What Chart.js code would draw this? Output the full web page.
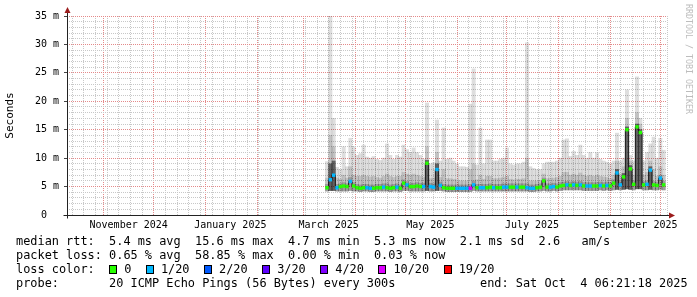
<!DOCTYPE html>
<html>
<head>
<meta charset="utf-8">
<script src="https://cdn.jsdelivr.net/npm/chart.js@4.4.1/dist/chart.umd.min.js"></script>
<style>
  html, body { margin: 0; padding: 0; background: #fff; }
  #wrap { position: relative; width: 697px; height: 297px; overflow: hidden; }
  #smoke { position: absolute; left: 0; top: 0; }
  .legend { position: absolute; left: 16px; font-family: 'DejaVu Sans Mono', monospace; font-size: 11.9px; line-height: 14px; white-space: pre; color: #000; }
  .box { display: inline-block; width: 8px; height: 9px; box-sizing: border-box; border: 1px solid #000; vertical-align: -1px; }
  #mark { position: absolute; left: 684px; top: 4px; writing-mode: vertical-rl; font-family: 'DejaVu Sans Mono', monospace; font-size: 8.3px; color: #bdbdbd; }
</style>
</head>
<body>
<div id="wrap">
  <canvas id="smoke" width="697" height="297"></canvas>
  <div id="mark">RRDTOOL / TOBI OETIKER</div>
  <div class="legend" style="top:234px">median rtt:  5.4 ms avg  15.6 ms max  4.7 ms min  5.3 ms now  2.1 ms sd  2.6   am/s</div>
  <div class="legend" style="top:248px">packet loss: 0.65 % avg  58.85 % max  0.00 % min  0.03 % now</div>
  <div class="legend" style="top:262px">loss color:  <span class="box" style="background:#26ff00"></span> 0  <span class="box" style="background:#00b8ff"></span> 1/20  <span class="box" style="background:#0059ff"></span> 2/20  <span class="box" style="background:#5e00ff"></span> 3/20  <span class="box" style="background:#7e00ff"></span> 4/20  <span class="box" style="background:#dd00ff"></span> 10/20  <span class="box" style="background:#ff0000"></span> 19/20</div>
  <div class="legend" style="top:276px">probe:       20 ICMP Echo Pings (56 Bytes) every 300s</div>
  <div class="legend" style="top:276px; left:480px">end: Sat Oct  4 06:21:18 2025</div>
</div>
<script>
// day 0 = Oct 10 2024, one bin = 2 days
var firstBinDay = 156;
var binStep = 2;

var medianMs = [
  4.8, 6.2, 7.0, 4.8, 5.0, 5.1, 5.0, 5.9, 5.1, 4.8,
  4.7, 4.8, 4.8, 4.7, 4.7, 4.8, 4.8, 4.9, 4.8, 4.7,
  4.8, 4.9, 4.7, 5.6, 5.3, 5.0, 5.0, 5.1, 5.0, 5.0,
  9.1, 5.0, 4.9, 8.0, 5.2, 4.8, 4.7, 4.7, 4.7, 4.7,
  4.7, 4.7, 4.7, 4.7, 5.3, 4.8, 4.8, 4.8, 4.8, 4.9,
  4.8, 4.8, 4.8, 4.9, 4.9, 4.9, 4.9, 4.9, 4.9, 4.9,
  4.8, 4.7, 4.7, 4.8, 4.9, 6.0, 4.9, 4.9, 5.0, 4.9,
  5.1, 5.2, 5.3, 5.2, 5.3, 5.2, 5.3, 5.1, 5.1, 5.1,
  5.1, 5.1, 5.2, 5.1, 5.2, 5.1, 5.6, 7.4, 5.3, 6.7,
  15.0, 8.1, 5.4, 15.5, 14.5, 5.3, 5.4, 7.9, 5.3, 5.2,
  6.5, 5.3
];

// lost pings out of 20
var lossOf20 = [
  0, 1, 1, 1, 0, 0, 0, 1, 0, 0,
  0, 0, 1, 1, 0, 0, 0, 1, 0, 0,
  0, 1, 0, 0, 1, 0, 0, 0, 0, 1,
  0, 1, 1, 1, 1, 0, 0, 0, 0, 1,
  1, 1, 1, 10, 1, 0, 1, 1, 0, 0,
  1, 0, 0, 1, 1, 0, 0, 1, 0, 0,
  1, 1, 1, 0, 0, 0, 0, 1, 1, 0,
  0, 0, 1, 0, 1, 0, 1, 0, 1, 1,
  0, 0, 1, 0, 1, 0, 0, 1, 1, 0,
  0, 0, 0, 0, 0, 0, 1, 1, 0, 0,
  1, 0
];

var smokeLo = [
  4.2, 4.3, 4.3, 4.2, 4.2, 4.2, 4.2, 4.3, 4.2, 4.2,
  4.1, 4.2, 4.2, 4.1, 4.1, 4.2, 4.2, 4.2, 4.2, 4.1,
  4.2, 4.2, 4.1, 4.3, 4.3, 4.2, 4.2, 4.2, 4.2, 4.2,
  4.3, 4.2, 4.2, 4.3, 4.3, 4.2, 4.1, 4.1, 4.1, 4.1,
  4.1, 4.1, 4.1, 4.1, 4.3, 4.2, 4.2, 4.2, 4.2, 4.2,
  4.2, 4.2, 4.2, 4.2, 4.2, 4.2, 4.2, 4.2, 4.2, 4.2,
  4.2, 4.1, 4.1, 4.2, 4.2, 4.3, 4.2, 4.2, 4.3, 4.2,
  4.3, 4.4, 4.4, 4.4, 4.4, 4.4, 4.4, 4.3, 4.3, 4.3,
  4.3, 4.3, 4.4, 4.3, 4.4, 4.3, 4.4, 4.5, 4.4, 4.5,
  4.6, 4.5, 4.4, 4.6, 4.6, 4.4, 4.4, 4.5, 4.4, 4.4,
  4.5, 4.4
];

var innerHi = [
  5.4, 9.0, 9.5, 5.4, 5.5, 5.7, 5.5, 6.6, 5.7, 5.4,
  5.3, 5.4, 5.4, 5.3, 5.3, 5.4, 5.4, 5.5, 5.5, 5.3,
  5.4, 5.5, 5.3, 6.2, 5.9, 5.6, 5.6, 5.7, 5.6, 5.6,
  9.6, 5.6, 5.5, 9.0, 5.8, 5.4, 5.3, 5.3, 5.3, 5.3,
  5.3, 5.3, 5.3, 5.4, 6.0, 5.4, 5.4, 5.4, 5.4, 5.5,
  5.4, 5.4, 5.4, 5.5, 5.5, 5.5, 5.5, 5.5, 5.5, 5.5,
  5.5, 5.3, 5.3, 5.4, 5.5, 6.5, 5.5, 5.5, 5.6, 5.5,
  5.7, 5.8, 5.9, 5.8, 5.9, 5.8, 5.9, 5.7, 5.7, 5.7,
  5.7, 5.7, 5.8, 5.7, 5.8, 5.7, 6.2, 8.0, 5.9, 7.3,
  15.5, 8.7, 6.0, 16.0, 15.0, 5.9, 6.0, 8.5, 5.9, 5.8,
  7.0, 5.9
];

var midHi = [
  6.5, 14.0, 12.0, 6.5, 6.3, 7.0, 6.5, 8.5, 7.0, 6.8,
  6.8, 7.0, 6.8, 6.7, 6.8, 6.6, 6.5, 6.8, 7.2, 6.8,
  6.6, 6.8, 6.8, 7.5, 7.2, 7.0, 7.2, 7.0, 6.8, 6.6,
  12.0, 6.4, 6.5, 11.0, 6.6, 8.0, 6.4, 6.4, 6.3, 6.2,
  6.0, 6.0, 6.0, 8.0, 9.0, 6.2, 7.0, 6.3, 6.8, 6.8,
  6.4, 6.4, 6.5, 6.6, 6.8, 6.3, 6.2, 6.3, 6.3, 6.4,
  10.0, 6.0, 6.0, 6.0, 6.1, 7.2, 6.4, 6.5, 6.5, 6.6,
  6.8, 7.5, 7.5, 7.0, 7.2, 7.0, 7.4, 7.0, 6.8, 7.0,
  6.8, 7.0, 6.8, 6.7, 6.6, 6.4, 7.0, 9.5, 7.0, 8.5,
  17.0, 9.5, 7.0, 18.0, 16.0, 7.0, 7.5, 9.5, 8.0, 6.8,
  8.5, 7.0
];

var smokeHi = [
  9.4, 35.0, 17.0, 8.4, 8.0, 12.0, 8.5, 13.5, 12.0, 10.5,
  10.8, 12.3, 10.2, 10.0, 10.3, 9.8, 9.6, 10.0, 12.5, 10.5,
  9.8, 10.5, 10.2, 12.3, 11.5, 11.0, 11.8, 11.0, 10.5, 9.8,
  19.7, 9.0, 9.2, 16.7, 9.5, 15.3, 9.8, 10.0, 9.5, 9.0,
  8.5, 8.5, 8.4, 19.5, 25.7, 8.8, 15.3, 9.0, 13.2, 13.2,
  9.5, 9.5, 9.8, 10.0, 11.8, 9.0, 8.8, 9.0, 9.0, 9.3,
  30.3, 8.5, 8.2, 8.0, 8.0, 9.0, 9.3, 9.3, 9.3, 9.5,
  10.0, 13.2, 13.4, 10.3, 11.2, 10.5, 12.3, 10.5, 10.0, 11.0,
  10.0, 11.0, 9.8, 9.5, 9.3, 9.0, 9.5, 14.4, 9.5, 10.0,
  22.0, 10.5, 9.5, 24.3, 17.0, 9.5, 11.0, 12.5, 13.7, 10.0,
  13.5, 11.4
];

// x axis: month starts, label positions, weekly lines
var monthStarts = [22, 52, 83, 114, 142, 173, 203, 234, 264, 295, 326, 356];
var labelDays = [37, 98, 157, 218, 279, 341];
var monthLabels = ['November 2024', 'January 2025', 'March 2025', 'May 2025', 'July 2025', 'September 2025'];

var lossColors = { 0: '#26ff00', 1: '#00b8ff', 2: '#0059ff', 3: '#5e00ff', 4: '#7e00ff', 10: '#dd00ff', 19: '#ff0000' };

var weekDays = [];
for (var d = 3; d <= 360; d += 7) {
    if (monthStarts.indexOf(d) < 0) weekDays.push(d);
}

var days = medianMs.map(function (_, i) { return firstBinDay + i * binStep; });
function band(hi) {
    return days.map(function (x, i) { return { x: x, y: [smokeLo[i], hi[i]] }; });
}
var medianPts = days.map(function (x, i) { return { x: x, y: medianMs[i] }; });

var minorGrid = 'rgb(200,200,200)';
var majorGrid = 'rgb(228,138,138)';

function setTicks(list) {
    return function (s) {
        s.ticks = list.map(function (v) { return { value: v }; });
    };
}

// axis lines with the little red arrows
var axisArrows = {
    id: 'axisArrows',
    afterDraw: function (chart) {
        var ctx = chart.ctx, a = chart.chartArea;
        var x0 = Math.round(a.left) + 0.5, y0 = Math.round(a.bottom) + 0.5;
        ctx.save();
        ctx.strokeStyle = '#222';
        ctx.lineWidth = 1;
        ctx.beginPath();
        ctx.moveTo(x0, y0 + 3);
        ctx.lineTo(x0, a.top - 5);
        ctx.moveTo(x0 - 4, y0);
        ctx.lineTo(a.right + 4, y0);
        ctx.stroke();
        ctx.fillStyle = '#9b1c1c';
        ctx.beginPath();
        ctx.moveTo(x0 - 3, a.top - 3);
        ctx.lineTo(x0 + 3, a.top - 3);
        ctx.lineTo(x0, a.top - 9);
        ctx.closePath();
        ctx.fill();
        ctx.beginPath();
        ctx.moveTo(a.right + 2, y0 - 3);
        ctx.lineTo(a.right + 2, y0 + 3);
        ctx.lineTo(a.right + 8, y0);
        ctx.closePath();
        ctx.fill();
        ctx.restore();
    }
};

Chart.defaults.font.family = "'DejaVu Sans Mono', monospace";
Chart.defaults.color = '#000';

var ctx = document.getElementById('smoke').getContext('2d');
var chart = new Chart(ctx, {
    type: 'bar',
    data: {
        datasets: [{
            type: 'line',
            label: 'median loss color',
            data: medianPts,
            showLine: false,
            pointStyle: 'rect',
            pointRadius: 2.4,
            pointBorderWidth: 0,
            pointBackgroundColor: function (c) { return lossColors[lossOf20[c.dataIndex]]; },
            order: 0
        }, {
            type: 'line',
            label: 'median rtt',
            data: medianPts,
            borderColor: '#1a1a1a',
            borderWidth: 1,
            pointRadius: 0,
            stepped: 'middle',
            order: 1
        }, {
            label: 'inner smoke',
            data: band(innerHi),
            backgroundColor: function (c) {
                var i = c.dataIndex;
                return innerHi[i] - smokeLo[i] > 2.5 ? 'rgba(0,0,0,0.5)' : 'rgba(0,0,0,0.2)';
            },
            order: 2
        }, {
            label: 'mid smoke',
            data: band(midHi),
            backgroundColor: 'rgba(0,0,0,0.13)',
            order: 3
        }, {
            label: 'outer smoke',
            data: band(smokeHi),
            backgroundColor: 'rgba(0,0,0,0.13)',
            order: 4
        }]
    },
    options: {
        responsive: false,
        animation: false,
        devicePixelRatio: 1,
        layout: { padding: { left: 0, right: 30, top: 16, bottom: 62 } },
        datasets: { bar: { grouped: false, barThickness: 3.34, borderWidth: 0 } },
        plugins: { legend: { display: false }, tooltip: { enabled: false } },
        scales: {
            x: {
                type: 'linear',
                min: 0,
                max: 360,
                offset: false,
                afterFit: function (s) { s.height = 20; },
                afterBuildTicks: function (s) {
                    var vals = weekDays.concat(labelDays).filter(function (v, i, arr) { return arr.indexOf(v) === i; });
                    vals.sort(function (a, b) { return a - b; });
                    s.ticks = vals.map(function (v) { return { value: v }; });
                },
                ticks: {
                    autoSkip: false,
                    maxRotation: 0,
                    padding: 4,
                    font: { size: 10 },
                    callback: function (v) {
                        var k = labelDays.indexOf(v);
                        return k >= 0 ? monthLabels[k] : '';
                    }
                },
                grid: {
                    offset: false,
                    lineWidth: 1,
                    drawTicks: false,
                    color: function (c) {
                        var v = c.tick && c.tick.value;
                        return weekDays.indexOf(v) >= 0 ? minorGrid : 'rgba(0,0,0,0)';
                    }
                },
                border: { display: false, dash: [1, 1] }
            },
            xMonths: {
                type: 'linear',
                position: 'bottom',
                min: 0,
                max: 360,
                offset: false,
                afterFit: function (s) { s.height = 0; },
                afterBuildTicks: setTicks(monthStarts),
                ticks: { display: false },
                grid: {
                    offset: false,
                    lineWidth: 1,
                    drawTicks: false,
                    color: majorGrid
                },
                border: { display: false, dash: [1, 1] }
            },
            y: {
                min: 0,
                max: 35,
                afterFit: function (s) { s.width = 67; },
                afterBuildTicks: function (s) {
                    var t = [];
                    for (var v = 0; v <= 35; v++) t.push({ value: v });
                    s.ticks = t;
                },
                ticks: {
                    autoSkip: false,
                    padding: 5,
                    font: { size: 10 },
                    callback: function (v) {
                        if (v % 5) return '';
                        return v ? v + ' m' : '0  ';
                    }
                },
                grid: {
                    lineWidth: 1,
                    tickLength: 3,
                    color: function (c) {
                        var v = c.tick && c.tick.value;
                        return v % 5 === 0 ? majorGrid : minorGrid;
                    },
                    tickColor: function (c) {
                        var v = c.tick && c.tick.value;
                        return v % 5 === 0 ? '#444' : 'rgba(0,0,0,0)';
                    }
                },
                border: { display: false, dash: [1, 1] },
                title: {
                    display: true,
                    text: 'Seconds',
                    font: { size: 11 },
                    padding: { top: 4, bottom: 0 }
                }
            }
        }
    },
    plugins: [axisArrows]
});
</script>
</body>
</html>
